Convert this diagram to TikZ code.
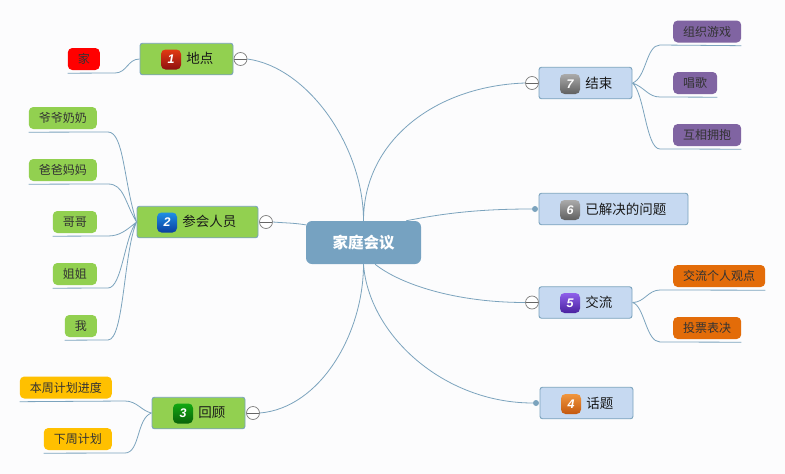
\documentclass[tikz,border=0pt]{standalone}
\usepackage{fontspec}
\setmainfont{Noto Sans CJK SC}
\newfontfamily\numfont{Liberation Sans}
\usetikzlibrary{positioning}
\definecolor{linkblue}{HTML}{7BA3BD}
\definecolor{rootblue}{HTML}{76A2C1}
\definecolor{paleblue}{HTML}{C6D9F1}
\definecolor{leafgreen}{HTML}{92D050}
\definecolor{leafpurple}{HTML}{8064A2}
\definecolor{leaforange}{HTML}{E36C09}
\definecolor{leafyellow}{HTML}{FFC000}
\definecolor{paper}{HTML}{FCFCFD}
\definecolor{redtop}{HTML}{E23A12}
\definecolor{redlow}{HTML}{8E1010}
\definecolor{bluetop}{HTML}{1E8FE4}
\definecolor{bluelow}{HTML}{0A3FA0}
\definecolor{greentop}{HTML}{12A812}
\definecolor{greenlow}{HTML}{0A620A}
\definecolor{orangetop}{HTML}{F0963E}
\definecolor{orangelow}{HTML}{C4580E}
\definecolor{violettop}{HTML}{8E5FEA}
\definecolor{violetlow}{HTML}{4A22A0}
\definecolor{greytop}{HTML}{ABABAB}
\definecolor{greylow}{HTML}{5F5F5F}

\begin{document}
\begin{tikzpicture}[x=1pt,y=-1pt,
  root node/.style={rectangle,rounded corners=6pt,fill=rootblue,minimum width=115pt,minimum height=43pt,inner sep=0pt,text=white,font=\bfseries\fontsize{15.5}{16}\selectfont},
  main node/.style={rectangle,rounded corners=2.5pt,draw=linkblue,line width=0.9pt,minimum height=31.5pt,inner sep=0pt},
  leaf node/.style={rectangle,rounded corners=4.5pt,minimum height=22pt,inner xsep=10pt,inner ysep=0pt,text=black!80,font=\fontsize{12}{12}\selectfont},
  badge node/.style 2 args={rectangle,rounded corners=4.5pt,minimum size=20pt,inner sep=0pt,top color=#1,middle color=#1,bottom color=#2,text=white,font=\numfont\bfseries\itshape\fontsize{12.5}{13}\selectfont},
  label node/.style={inner sep=0pt,yshift=1pt,font=\fontsize{13.5}{14}\selectfont,text=black!90},
  fold node/.style={circle,draw=black!50,fill=white,line width=0.7pt,minimum size=13pt,inner sep=0pt,
    path picture={\draw[black!60,line width=0.7pt] (path picture bounding box.west) -- (path picture bounding box.east);}},
  dot node/.style={circle,fill=linkblue,minimum size=6pt,inner sep=0pt},
  link/.style={draw=linkblue,line width=0.8pt}]

  \useasboundingbox (0,0) rectangle (785,474);
  \fill[paper] (0,0) rectangle (785,474);

  \node[root node] (root) at (363.5,242.5) {家庭会议};

  \node[main node,fill=leafgreen,minimum width=93pt] (1) at (186.5,59) {};
  \node[main node,fill=leafgreen,minimum width=121pt] (2) at (197.5,222) {};
  \node[main node,fill=leafgreen,minimum width=93pt] (3) at (198.5,413) {};
  \node[main node,fill=paleblue,minimum width=93pt] (4) at (586.5,403) {};
  \node[main node,fill=paleblue,minimum width=93pt] (5) at (585.5,302.5) {};
  \node[main node,fill=paleblue,minimum width=149pt] (6) at (613.5,209) {};
  \node[main node,fill=paleblue,minimum width=93pt] (7) at (585.5,83) {};

  \node[badge node={redtop}{redlow}] (b1) at (171,59.5) {1};
  \node[badge node={bluetop}{bluelow}] (b2) at (167,222.5) {2};
  \node[badge node={greentop}{greenlow}] (b3) at (183,413.5) {3};
  \node[badge node={orangetop}{orangelow}] (b4) at (571,404) {4};
  \node[badge node={violettop}{violetlow}] (b5) at (570,303) {5};
  \node[badge node={greytop}{greylow}] (b6) at (570,210) {6};
  \node[badge node={greytop}{greylow}] (b7) at (570,84) {7};

  \node[label node] (t1) [right=5pt of b1] {地点};
  \node[label node] (t2) [right=5pt of b2] {参会人员};
  \node[label node] (t3) [right=5pt of b3] {回顾};
  \node[label node] (t4) [right=5pt of b4] {话题};
  \node[label node] (t5) [right=5pt of b5] {交流};
  \node[label node] (t6) [right=5pt of b6] {已解决的问题};
  \node[label node] (t7) [right=5pt of b7] {结束};

  \node[fold node] (f1) at (240.5,59) {};
  \node[fold node] (f2) at (266,222) {};
  \node[fold node] (f3) at (253,413) {};
  \node[fold node] (f5) at (532,302.5) {};
  \node[fold node] (f7) at (532,83) {};
  \node[dot node] (d4) at (536,403) {};
  \node[dot node] (d6) at (535,209) {};

  % leaves on the left
  \node[leaf node,fill=red,anchor=east] (l1) at (100,59) {家};
  \node[leaf node,fill=leafgreen,anchor=east] (l2) at (97,118) {爷爷奶奶};
  \node[leaf node,fill=leafgreen,anchor=east] (l3) at (97,170) {爸爸妈妈};
  \node[leaf node,fill=leafgreen,anchor=east] (l4) at (97,222) {哥哥};
  \node[leaf node,fill=leafgreen,anchor=east] (l5) at (97,274) {姐姐};
  \node[leaf node,fill=leafgreen,anchor=east] (l6) at (97,326) {我};
  \node[leaf node,fill=leafyellow,anchor=east] (l7) at (112,387.5) {本周计划进度};
  \node[leaf node,fill=leafyellow,anchor=east] (l8) at (112,439) {下周计划};

  % leaves on the right
  \node[leaf node,fill=leafpurple,anchor=west] (l9) at (673,31.5) {组织游戏};
  \node[leaf node,fill=leafpurple,anchor=west] (l10) at (673,83) {唱歌};
  \node[leaf node,fill=leafpurple,anchor=west] (l11) at (673,135) {互相拥抱};
  \node[leaf node,fill=leaforange,anchor=west] (l12) at (673,276) {交流个人观点};
  \node[leaf node,fill=leaforange,anchor=west] (l13) at (673,328) {投票表决};

  \coordinate (u1) at (115,73);
  \coordinate (u2) at (108,132);
  \coordinate (u3) at (108,184);
  \coordinate (u4) at (108,236);
  \coordinate (u5) at (108,288);
  \coordinate (u6) at (108,340);
  \coordinate (u7) at (125,401);
  \coordinate (u8) at (125,453);
  \coordinate (u9) at (660,45);
  \coordinate (u10) at (660,97);
  \coordinate (u11) at (660,149);
  \coordinate (u12) at (660,290);
  \coordinate (u13) at (660,342);

  \path[link]
    (f1.east) .. controls +(60,8) and +(0,-75) .. (root.north)
    (f2.east) .. controls +(12,1) and +(-12,-2) .. (root.163)
    (f3.east) .. controls +(60,-5) and +(0,70) .. (root.south)
    (root.north) .. controls +(0,-80) and +(-90,3) .. (f7.west)
    (root.27) .. controls +(40,-8) and +(-50,0) .. (d6.west)
    (root.-62) .. controls +(25,20) and +(-70,0) .. (f5.west)
    (root.south) .. controls +(5,70) and +(-90,0) .. (d4.west);

  \path[link]
    (1.west) .. controls +(-12,0) and +(12,0) .. (u1) -- ([yshift=-3pt]l1.south west)
    (2.west) .. controls +(-13,-40) and +(16,0) .. (u2) -- ([yshift=-3pt]l2.south west)
    (2.west) .. controls +(-12,-20) and +(16,0) .. (u3) -- ([yshift=-3pt]l3.south west)
    (2.west) .. controls +(-10,8) and +(12,0) .. (u4) -- ([yshift=-3pt]l4.south west)
    (2.west) .. controls +(-12,14) and +(14,0) .. (u5) -- ([yshift=-3pt]l5.south west)
    (2.west) .. controls +(-13,30) and +(16,0) .. (u6) -- ([yshift=-3pt]l6.south west)
    (3.west) .. controls +(-10,-2) and +(12,0) .. (u7) -- ([yshift=-3pt]l7.south west)
    (3.west) .. controls +(-15,5) and +(15,0) .. (u8) -- ([yshift=-3pt]l8.south west)
    (7.east) .. controls +(14,-5) and +(-14,0) .. (u9) -- ([yshift=-3pt]l9.south east)
    (7.east) .. controls +(12,4) and +(-12,0) .. (u10) -- ([yshift=-3pt]l10.south east)
    (7.east) .. controls +(12,10) and +(-14,0) .. (u11) -- ([yshift=-3pt]l11.south east)
    (5.east) .. controls +(12,0) and +(-12,0) .. (u12) -- ([yshift=-3pt]l12.south east)
    (5.east) .. controls +(12,3) and +(-14,0) .. (u13) -- ([yshift=-3pt]l13.south east);

\end{tikzpicture}
\end{document}
